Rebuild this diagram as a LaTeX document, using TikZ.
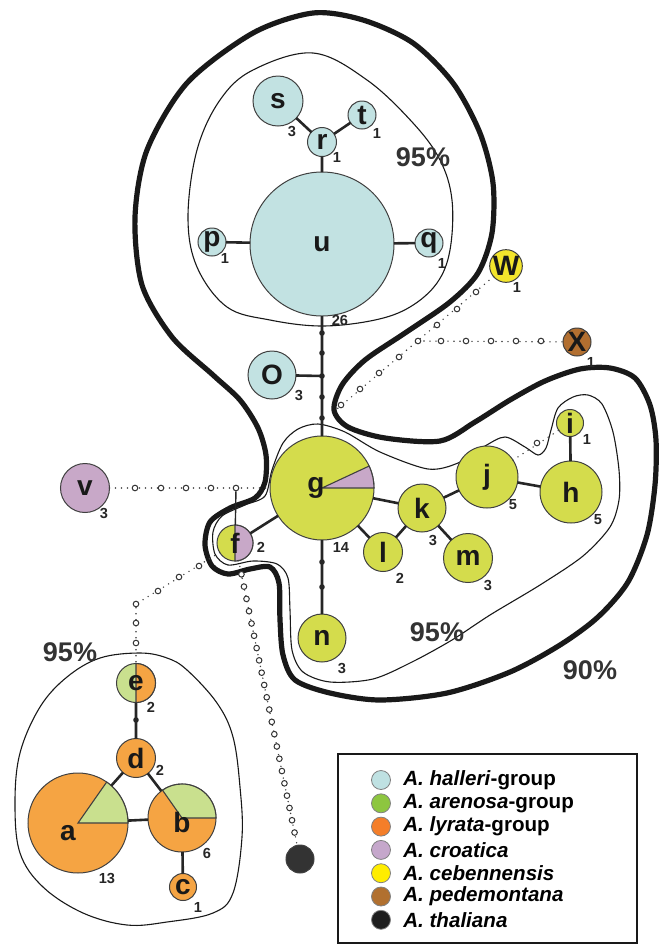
\documentclass[tikz,border=0pt]{standalone}
\usepackage{fontspec}
\setmainfont{Liberation Sans}
\usetikzlibrary{positioning}

\definecolor{halleri}{HTML}{C2E2E2}
\definecolor{arenosa}{HTML}{D4DC4C}
\definecolor{arenosalt}{HTML}{C9E08E}
\definecolor{lyrata}{HTML}{F5A443}
\definecolor{croatica}{HTML}{C8A8C8}
\definecolor{cebenn}{HTML}{F3E52C}
\definecolor{pedemont}{HTML}{B26F30}
\definecolor{thaliana}{HTML}{333333}
\definecolor{halleriL}{HTML}{BFE1E2}
\definecolor{arenosaL}{HTML}{8DC63F}
\definecolor{lyrataL}{HTML}{F47E29}
\definecolor{croaticaL}{HTML}{C5A7CB}
\definecolor{cebennL}{HTML}{FFED00}
\definecolor{pedemontL}{HTML}{B1702F}
\definecolor{thalianaL}{HTML}{1E1E1E}

\tikzset{
  hap/.style={circle, draw=black!75, line width=0.5pt, inner sep=0pt, outer sep=0pt,
    text=black!90, font=\fontsize{14}{15}\selectfont\bfseries},
  wedge/.style={draw=black!75, line width=0.55pt},
  cnt/.style={font=\fontsize{7.3}{8}\selectfont\bfseries, text=black!85, inner sep=0pt},
  edge/.style={line width=1.3pt, black!85},
  thinedge/.style={line width=0.7pt, black!85},
  mut/.style={circle, fill=black!85, inner sep=0pt, minimum size=2.8pt},
  dotline/.style={line width=0.8pt, black!75, line cap=round, dash pattern=on 0pt off 3pt},
  ostep/.style={circle, solid, draw=black!80, fill=white, line width=0.5pt, inner sep=0pt, minimum size=2.8pt},
  limit90/.style={line width=2.6pt, black!90},
  limit95/.style={line width=0.55pt, black!90},
  pct/.style={font=\fontsize{13.5}{14}\selectfont\bfseries, text=black!80},
  legdot/.style={circle, draw=black!50, line width=0.4pt, minimum size=9.5pt, inner sep=0pt},
  legtxt/.style={font=\fontsize{10.3}{12}\selectfont\bfseries, anchor=west, inner sep=0pt},
}

\begin{document}
\begin{tikzpicture}[x=0.5pt, y=-0.5pt]
\useasboundingbox (0,0) rectangle (662,944);

% connection limits
\draw[limit90] plot[smooth cycle, tension=0.5] coordinates {
  (313,13) (363,20) (413,43) (453,83) (480,133) (493,183) (492,233) (478,273)
  (450,302) (405,333) (365,360) (342,385) (334,410) (348,427) (385,438) (440,441)
  (475,422) (510,400) (545,381) (580,369) (610,368) (635,378) (650,405) (656,440)
  (655,485) (647,535) (628,582) (598,617) (560,645) (510,672) (447,693) (380,700)
  (330,693) (295,680) (283,655) (280,620) (279,583) (270,567) (250,569) (228,574)
  (212,566) (205,545) (210,522) (230,508) (255,498) (265,482) (266,455) (258,428)
  (240,400) (213,375) (172,337) (142,285) (135,217) (147,150) (187,83) (253,33)};
\draw[limit95] plot[smooth cycle, tension=0.6] coordinates {
  (313,53) (367,80) (413,123) (440,160) (452,200) (450,250) (437,283) (410,307)
  (375,320) (322,326) (270,320) (227,307) (197,267) (188,217) (197,150) (220,100)
  (253,70)};
\draw[limit95] plot[smooth cycle, tension=0.5] coordinates {
  (318,424) (345,432) (380,452) (428,469) (458,463) (485,446) (505,437) (525,447)
  (538,455) (546,448) (551,430) (558,408) (573,397) (588,395) (602,404) (613,432)
  (619,470) (619,500) (610,527) (583,556) (540,585) (490,615) (452,640) (412,662)
  (373,679) (330,682) (303,672) (292,650) (290,610) (288,578) (277,564) (253,561)
  (228,565) (215,554) (213,532) (222,516) (245,505) (265,496) (272,470) (283,443)
  (298,429)};
\draw[limit95] plot[smooth cycle, tension=0.6] coordinates {
  (100,658) (140,653) (167,658) (187,670) (217,703) (233,737) (240,787) (242,837)
  (233,893) (213,913) (167,922) (127,925) (83,913) (43,887) (20,853) (15,803)
  (20,753) (40,707) (67,677)};

% haplotypes
\foreach \n/\px/\py/\d/\c in {s/278/101/25/halleri, t/362/115/14/halleri,
    r/322/142/14.5/halleri, u/322/244/72/halleri, p/212/242/14/halleri,
    q/429/243/14/halleri, O/272/375/24/halleri, v/85/488/24.5/croatica,
    k/422/508/24/arenosa, l/383/552/19.5/arenosa, m/468/558/24.5/arenosa,
    j/487/477/31/arenosa, h/571/492/31/arenosa, i/570/423/13.5/arenosa,
    n/322/638/24/arenosa, W/506/266/14/cebenn, X/577/342/14/pedemont,
    d/136/758/19.5/lyrata, c/183/887/13.5/lyrata}
  \node[hap, fill=\c, minimum size=\d pt] (\n) at (\px,\py) {\n};
\node[hap, fill=thaliana, minimum size=14pt] (th) at (300,859) {};

% shared haplotypes
\node[hap, fill=arenosa, minimum size=52pt] (g) at (322,488) {};
\filldraw[wedge, fill=croatica] (g.center) -- ++(0:26pt) arc[start angle=0, end angle=25, radius=26pt] -- cycle;
\node[hap, draw=none] (g-txt) at ([xshift=-3pt]g.center) {g};
\node[hap, fill=arenosa, minimum size=18pt] (f) at (235,543) {};
\filldraw[wedge, fill=croatica] (f.center) -- ++(-90:9pt) arc[start angle=-90, end angle=90, radius=9pt] -- cycle;
\node[hap, draw=none] (f-txt) at (f.center) {f};
\node[hap, fill=arenosalt, minimum size=19.5pt] (e) at (136,683) {};
\filldraw[wedge, fill=lyrata] (e.center) -- ++(-90:9.75pt) arc[start angle=-90, end angle=90, radius=9.75pt] -- cycle;
\node[hap, draw=none] (e-txt) at (e.center) {e};
\node[hap, fill=lyrata, minimum size=50pt] (a) at (78,823) {};
\filldraw[wedge, fill=arenosalt] (a.center) -- ++(0:25pt) arc[start angle=0, end angle=55, radius=25pt] -- cycle;
\node[hap, draw=none] (a-txt) at ([xshift=-5pt, yshift=-5pt]a.center) {a};
\node[hap, fill=lyrata, minimum size=34pt] (b) at (182,818) {};
\filldraw[wedge, fill=arenosalt] (b.center) -- ++(0:17pt) arc[start angle=0, end angle=125, radius=17pt] -- cycle;
\node[hap, draw=none] (b-txt) at ([yshift=-2pt]b.center) {b};

% mutational steps
\coordinate (jO) at (322,376);
\draw[edge] (s) -- (r) (t) -- (r) (r) -- (u) (p) -- (u) (q) -- (u)
  (u) -- (g) (O) -- (jO) (g) -- (n) (g) -- (f) (g) -- (k) (g) -- (l)
  (l) -- (k) (k) -- (m) (k) -- (j) (j) -- (h) (h) -- (i)
  (e) -- (d) (d) -- (a) (d) -- (b) (a) -- (b) (b) -- (c);
\foreach \yy in {333,353,376,397,418} \node[mut] (ug\yy) at (322,\yy) {};
\foreach \yy in {562,587} \node[mut] (gn\yy) at (322,\yy) {};
\node[mut] (ed) at (136,720) {};

% missing haplotypes
\draw[dotline] (v) -- (g);
\foreach \px [count=\k] in {135,161,186,211,236} \node[ostep] (vs\k) at (\px,488) {};
\draw[thinedge] (vs5) -- (f);
\coordinate (fe) at (136,604);
\draw[dotline] (f) -- (fe) -- (e);
\foreach \px/\py [count=\k] in {199/566, 179/577, 158/591, 136/604, 136/623, 136/643}
  \node[ostep] (fe\k) at (\px,\py) {};
\draw[dotline] (f) -- (th)
  \foreach \k in {0,...,21} { node[ostep, pos={0.048+0.0432*\k}] (ft\k) {} };
\coordinate (wx) at (418,341);
\coordinate (wend) at (336,410);
\draw[dotline] (W) -- (wend);
\draw[dotline] (wx) -- (X);
\foreach \px/\py [count=\k] in {476/292, 457/309, 437/325, 418/341, 399/357, 379/373, 360/389, 341/405}
  \node[ostep] (ws\k) at (\px,\py) {};
\foreach \px [count=\k] in {441,466,491,516,541} \node[ostep] (xs\k) at (\px,341) {};
\draw[dotline] (j) -- (i);
\node[ostep] (ji) at (537,443) {};

% sample sizes
\foreach \n/\px/\py/\t in {s/292/131/3, t/377/133/1, r/337/157/1, p/225/258/1,
    q/442/263/1, u/340/320/26, O/299/395/3, v/104/513/3, g/341/547/14,
    f/261/547/2, k/433/540/3, l/400/578/2, m/488/585/3, j/513/505/5,
    h/598/520/5, i/587/439/1, n/342/668/3, W/517/287/1, X/591/362/1,
    e/151/707/2, d/160/770/2, a/107/878/13, b/207/853/6, c/198/907/1}
  \node[cnt] (\n-cnt) at (\px,\py) {\t};

\node[pct] (p95h) at (423,157) {95\%};
\node[pct] (p95a) at (437,632) {95\%};
\node[pct] (p95l) at (70,652) {95\%};
\node[pct] (p90) at (590,670) {90\%};

% legend
\node[draw=black!90, line width=1.2pt, minimum width=149.5pt, minimum height=94.5pt,
  anchor=north west, inner sep=0pt] (legend) at (337,753) {};
\foreach \c/\t [count=\k from 0] in {halleriL/{\textit{A. halleri}-group},
    arenosaL/{\textit{A. arenosa}-group}, lyrataL/{\textit{A. lyrata}-group},
    croaticaL/{\textit{A. croatica}}, cebennL/{\textit{A. cebennensis}},
    pedemontL/{\textit{A. pedemontana}}, thalianaL/{\textit{A. thaliana}}} {
  \node[legdot, fill=\c] (ld\k) at (381,{780+23.3*\k}) {};
  \node[legtxt, right=6pt of ld\k] (lt\k) {\t};
}
\end{tikzpicture}
\end{document}
